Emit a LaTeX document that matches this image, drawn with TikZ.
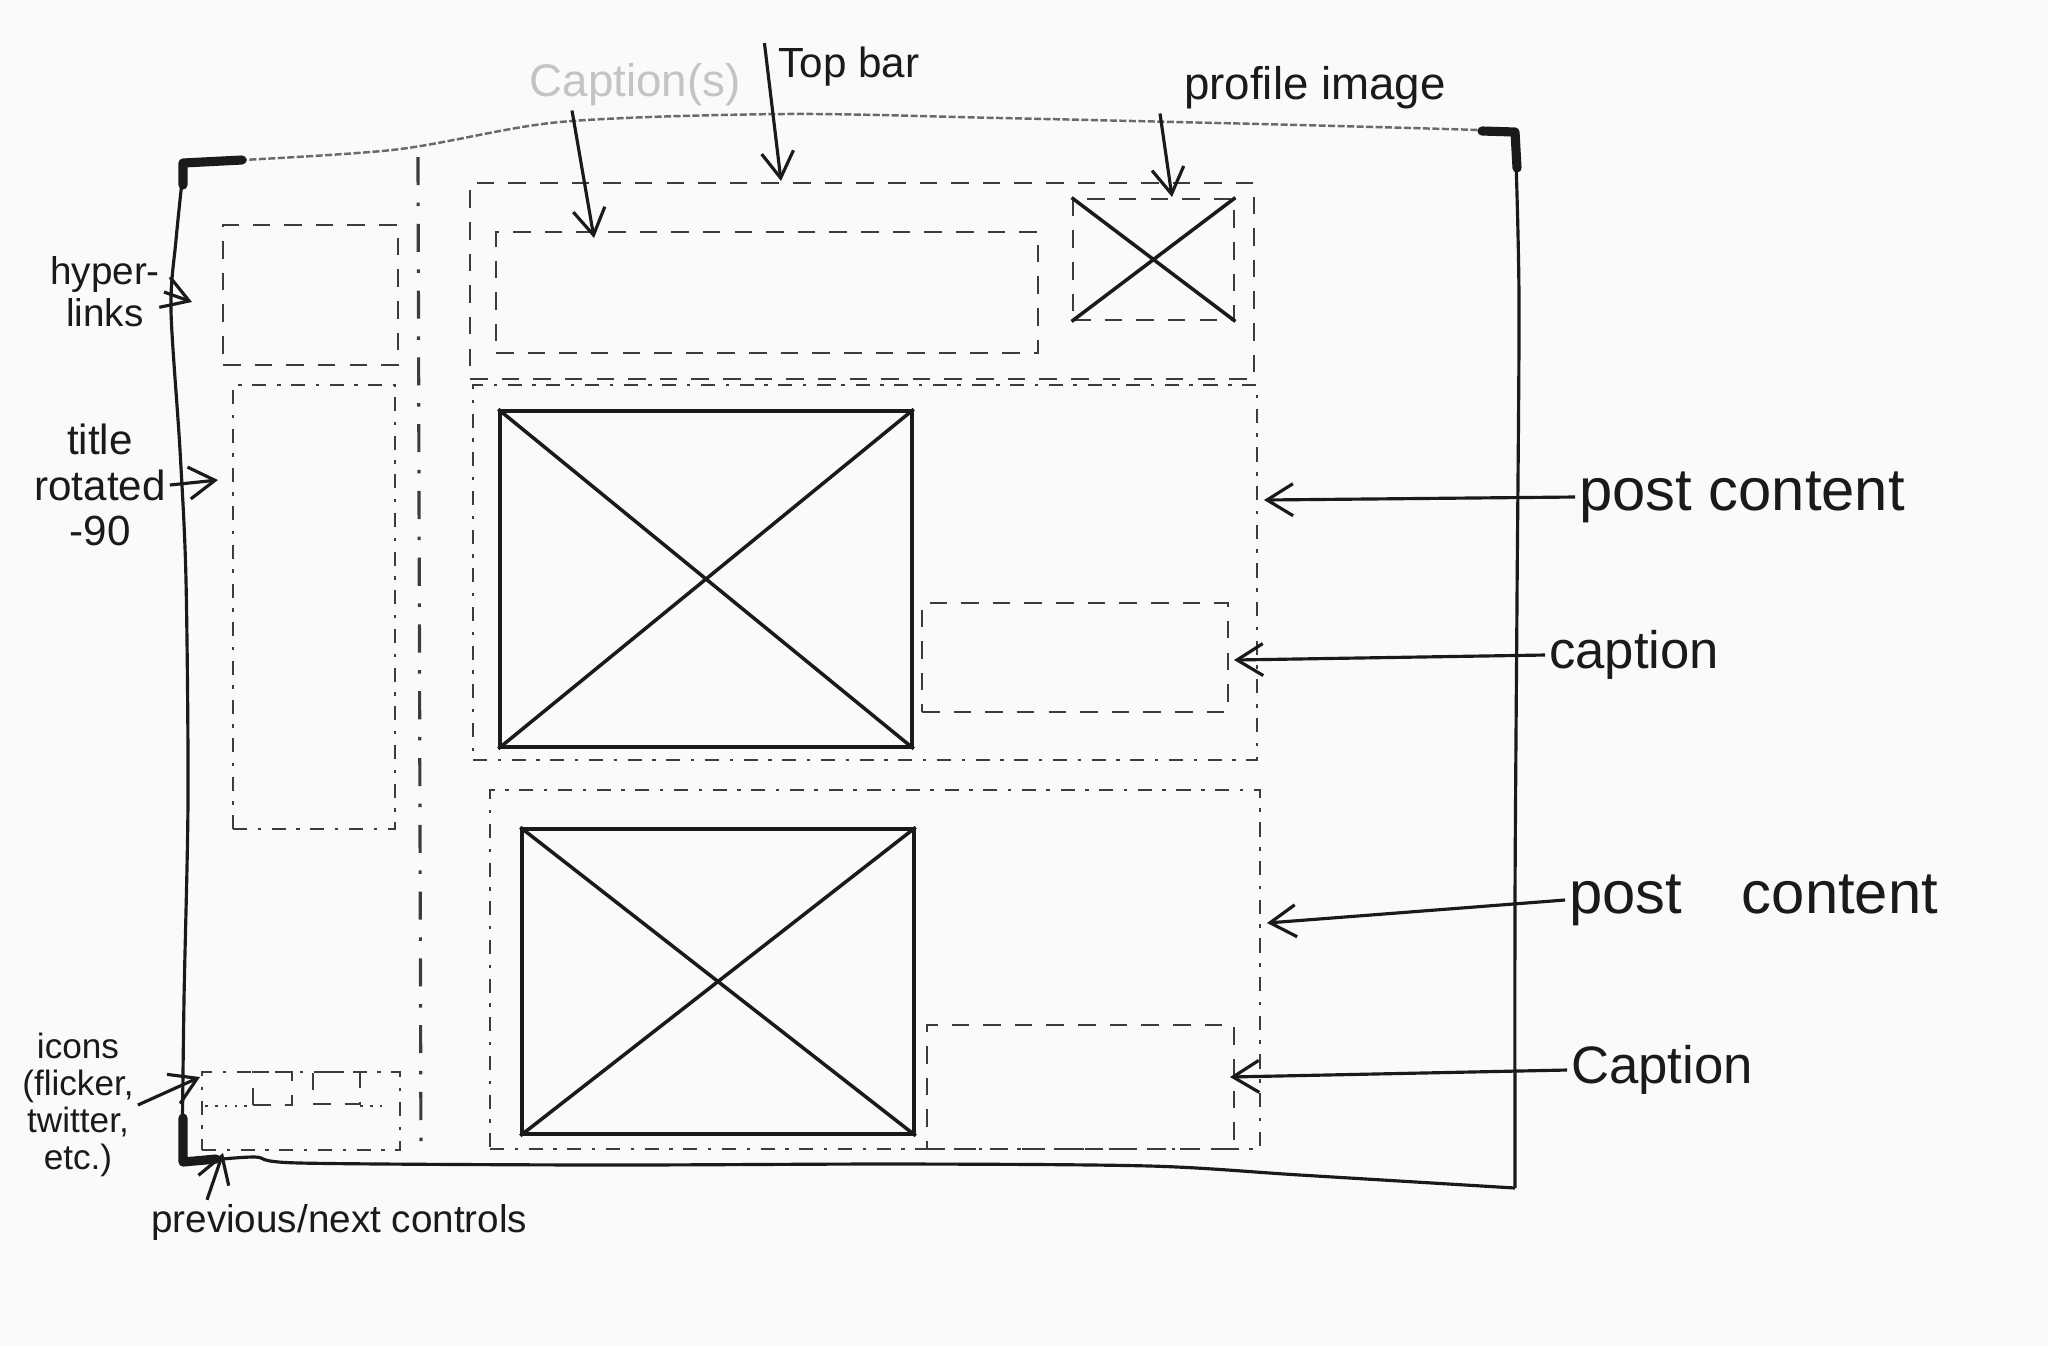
\documentclass[tikz,border=0pt]{standalone}
\usepackage{fontspec}
\setmainfont{Liberation Sans}
\usetikzlibrary{arrows.meta,fit}
\definecolor{paper}{HTML}{FAFAFA}
\definecolor{ink}{HTML}{1A1A1A}
\definecolor{pencil}{HTML}{3C3C3C}
\definecolor{faded}{HTML}{C4C4C4}

\begin{document}
\begin{tikzpicture}[
    x=0.1mm, y=-0.1mm,
    frameline/.style={draw=ink, line width=0.9pt, line join=round},
    corner/.style={draw=ink, line width=2.6pt, line cap=round, line join=round},
    dashbox/.style={rectangle, draw=pencil, line width=0.8pt, dash pattern=on 5pt off 4pt, inner sep=0pt},
    dotbox/.style={rectangle, draw=pencil, line width=0.8pt, dash pattern=on 4pt off 3pt on 1pt off 3pt, inner sep=0pt},
    imgbox/.style={rectangle, draw=ink, line width=1pt, inner sep=0pt},
    cross/.style={draw=ink, line width=1pt},
    note/.style={font=\fontsize{12}{13}\selectfont, text=ink, align=center, inner sep=1pt},
    bignote/.style={font=\fontsize{17}{19}\selectfont, text=ink, anchor=west, inner sep=1pt},
    arrow/.style={-{Straight Barb[length=2.6mm, width=3.2mm]}, draw=ink, line width=0.9pt}
  ]
  \fill[paper] (0,0) rectangle (2048,1346);
  \useasboundingbox (0,0) rectangle (2048,1346);

  % page frame
  \draw[draw=ink!65, line width=0.7pt, dash pattern=on 2pt off 0.7pt] plot[smooth] coordinates {(183,163) (392,150) (560,122) (784,114) (1000,118) (1300,125) (1515,131)};
  \draw[frameline] plot[smooth] coordinates {(184,163) (176,240) (171,310) (180,450) (186,580) (188,800) (184,1000) (182,1163)};
  \draw[frameline] plot[smooth] coordinates {(1515,131) (1519,300) (1517,600) (1515,900) (1515,1188)};
  \draw[frameline] plot[smooth] coordinates {(182,1163) (253,1157) (300,1163) (600,1165) (900,1164) (1150,1166) (1300,1175) (1515,1188)};
  \draw[corner] (183,185) -- (183,163) -- (242,160);
  \draw[corner] (1482,131) -- (1515,132) -- (1517,168);
  \draw[corner] (183,1118) -- (183,1162) -- (216,1159);

  % column divider
  \draw[pencil, line width=0.9pt, dash pattern=on 8pt off 5pt on 1pt off 5pt] (418,157) -- (421,1156);

  % left column
  \node[dashbox, fit={(223,225) (398,365)}] (hyper) {};
  \node[dotbox, fit={(233,385) (395,829)}] (titlebox) {};
  \node[dotbox, fit={(202,1072) (400,1150)}] (icons) {};
  \node[dashbox, fit={(253,1072) (292,1105)}] (iconA) {};
  \node[dashbox, fit={(313,1072) (360,1104)}] (iconB) {};
  \draw[pencil, line width=0.8pt, dotted] (205,1106) -- (253,1106) (360,1106) -- (382,1106);

  % top bar
  \node[dashbox, fit={(470,183) (1254,379)}] (topbar) {};
  \node[dashbox, fit={(496,232) (1038,353)}] (topcap) {};
  \node[dashbox, fit={(1073,199) (1234,320)}] (profile) {};
  \draw[cross] (profile.north west) -- (profile.south east) (profile.north east) -- (profile.south west);

  % posts
  \node[dotbox, fit={(473,385) (1257,760)}] (post1) {};
  \node[imgbox, fit={(500,411) (912,747)}] (img1) {};
  \draw[cross] (img1.north west) -- (img1.south east) (img1.north east) -- (img1.south west);
  \node[dashbox, fit={(922,603) (1228,712)}] (cap1) {};

  \node[dotbox, fit={(490,790) (1260,1149)}] (post2) {};
  \node[imgbox, fit={(522,829) (914,1134)}] (img2) {};
  \draw[cross] (img2.north west) -- (img2.south east) (img2.north east) -- (img2.south west);
  \node[dashbox, fit={(927,1025) (1234,1149)}] (cap2) {};

  % labels
  \node[note, text=faded, font=\fontsize{13}{14}\selectfont] (capsnote) at (635,85) {Caption(s)};
  \node[note] (topnote) at (849,67) {Top bar};
  \node[note, font=\fontsize{13}{14}\selectfont] (profnote) at (1315,88) {profile image};
  \node[note, font=\fontsize{11}{12}\selectfont] (hypnote) at (105,292) {hyper-\\links};
  \node[note] (titlenote) at (100,485) {title\\rotated\\-90};
  \node[note, font=\fontsize{10}{10.5}\selectfont] (iconnote) at (78,1105) {icons\\(flicker,\\twitter,\\etc.)};
  \node[note, font=\fontsize{11}{12}\selectfont, anchor=west] (prevnote) at (147,1222) {previous/next controls};
  \node[bignote] (pc1note) at (1575,497) {post content};
  \node[bignote, font=\fontsize{15}{16}\selectfont] (cap1note) at (1545,655) {caption};
  \node[bignote] (pc2note) at (1565,900) {post\quad content};
  \node[bignote, font=\fontsize{15}{16}\selectfont] (cap2note) at (1567,1070) {Caption};

  \coordinate (capstip) at (594,238);
  \coordinate (toptip) at (781,181);
  \coordinate (proftip) at (1172,197);
  \coordinate (hyptip) at (192,302);
  \coordinate (titletip) at (218,480);
  \coordinate (icontip) at (200,1077);
  \coordinate (prevtip) at (223,1153);
  \coordinate (pc1tip) at (1264,500);
  \coordinate (cap1tip) at (1234,660);
  \coordinate (pc2tip) at (1267,923);
  \coordinate (cap2tip) at (1230,1077);

  \draw[arrow] ([xshift=-6.3mm]capsnote.south) -- (capstip);
  \draw[arrow] ([xshift=-1mm]topnote.north west) -- (toptip);
  \draw[arrow] ([xshift=-2mm]profnote.south west) -- (proftip);
  \draw[arrow] (hypnote.east) -- (hyptip);
  \draw[arrow] (titlenote.east) -- (titletip);
  \draw[arrow] (iconnote.east) -- (icontip);
  \draw[arrow] ([xshift=6mm]prevnote.north west) -- (prevtip);
  \draw[arrow] (pc1note.west) -- (pc1tip);
  \draw[arrow] (cap1note.west) -- (cap1tip);
  \draw[arrow] (pc2note.west) -- (pc2tip);
  \draw[arrow] (cap2note.west) -- (cap2tip);
\end{tikzpicture}
\end{document}
